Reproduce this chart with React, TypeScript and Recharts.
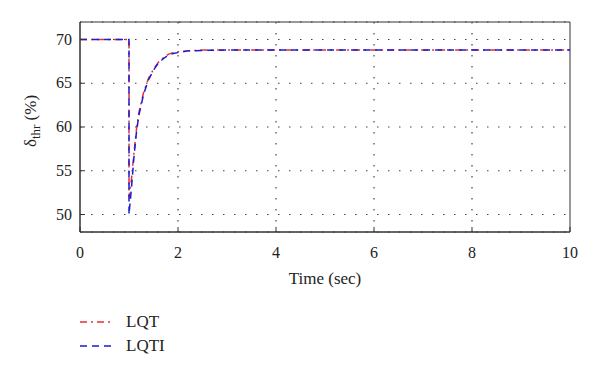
import { LineChart, Line, XAxis, YAxis, CartesianGrid, ReferenceArea } from "recharts";

const time = [0, 1, 1, 1.05, 1.1, 1.15, 1.2, 1.3, 1.4, 1.5, 1.6, 1.7, 1.8, 1.9, 2.0, 2.2, 2.5, 3, 4, 5, 6, 7, 8, 9, 10];
const lqt = [70, 70, 52, 54, 57, 59.6, 61.6, 64, 65.6, 66.6, 67.4, 67.9, 68.3, 68.5, 68.6, 68.7, 68.8, 68.8, 68.8, 68.8, 68.8, 68.8, 68.8, 68.8, 68.8];
const lqti = [70, 70, 50, 53, 56.5, 59.3, 61.3, 63.8, 65.4, 66.5, 67.3, 67.8, 68.2, 68.4, 68.5, 68.7, 68.75, 68.8, 68.8, 68.8, 68.8, 68.8, 68.8, 68.8, 68.8];
const xTicks = [0, 2, 4, 6, 8, 10];
const yTicks = [50, 55, 60, 65, 70];

const data = time.map((t, i) => ({ t, lqt: lqt[i], lqti: lqti[i] }));

const font = "'Liberation Serif', 'DejaVu Serif', serif";

// plot bottom is at 232, labels sit below it
const XTick = (props: any) => (
  <text x={props.x} y={258} textAnchor="middle" fontFamily={font} fontSize={16} fill="#222">
    {props.payload.value}
  </text>
);

const YTick = (props: any) => (
  <text x={72} y={props.y + 5} textAnchor="end" fontFamily={font} fontSize={16} fill="#222">
    {props.payload.value}
  </text>
);

const YLabel = (props: any) => {
  const vb = props.viewBox || {};
  const cx = 36;
  const cy = vb.y + vb.height / 2 - 6;
  return (
    <text
      x={cx}
      y={cy}
      transform={`rotate(-90, ${cx}, ${cy})`}
      textAnchor="middle"
      fontFamily={font}
      fontSize={17}
      fill="#222"
    >
      δ<tspan fontSize={13} dy={4}>thr</tspan>
      <tspan dy={-4}> (%)</tspan>
    </text>
  );
};

const LegendBox = () => (
  <div style={{ position: "absolute", left: 78, top: 310, fontFamily: font, fontSize: 17, color: "#222", lineHeight: "24px" }}>
    <div style={{ display: "flex", alignItems: "center" }}>
      <svg width={40} height={10}>
        <line x1={2} y1={5} x2={36} y2={5} stroke="#e0333a" strokeWidth={1.5} strokeDasharray="7 4 2 4" />
      </svg>
      <span style={{ marginLeft: 8 }}>LQT</span>
    </div>
    <div style={{ display: "flex", alignItems: "center" }}>
      <svg width={40} height={10}>
        <line x1={2} y1={5} x2={36} y2={5} stroke="#1c1ccf" strokeWidth={1.5} strokeDasharray="7 5" />
      </svg>
      <span style={{ marginLeft: 8 }}>LQTI</span>
    </div>
  </div>
);

export default function App() {
  return (
    <div style={{ position: "absolute", left: 0, top: 0, width: 600, height: 378, background: "#fff" }}>
      <LineChart width={600} height={378} data={data} margin={{ top: 22, right: 30, left: 0, bottom: 0 }}>
        <CartesianGrid stroke="#444" strokeWidth={1.2} strokeDasharray="1.5 9.5" verticalValues={[2, 4, 6, 8]} />
        <XAxis
          dataKey="t"
          type="number"
          domain={[0, 10]}
          ticks={xTicks}
          tick={<XTick />}
          tickSize={-5}
          stroke="#333"
          height={146}
          label={{ value: "Time (sec)", position: "insideTop", offset: 40, fontSize: 17, fill: "#222", fontFamily: font }}
        />
        <YAxis
          type="number"
          domain={[48, 72]}
          ticks={yTicks}
          tick={<YTick />}
          tickSize={-5}
          stroke="#333"
          width={80}
          label={<YLabel />}
        />
        <ReferenceArea x1={0} x2={10} y1={48} y2={72} fill="none" stroke="#333" strokeWidth={1} />
        <Line dataKey="lqt" stroke="#e0333a" strokeWidth={1.5} strokeDasharray="7 4 2 4" dot={false} isAnimationActive={false} type="linear" />
        <Line dataKey="lqti" stroke="#1c1ccf" strokeWidth={1.5} strokeDasharray="7 5" dot={false} isAnimationActive={false} type="linear" />
      </LineChart>
      <LegendBox />
    </div>
  );
}
